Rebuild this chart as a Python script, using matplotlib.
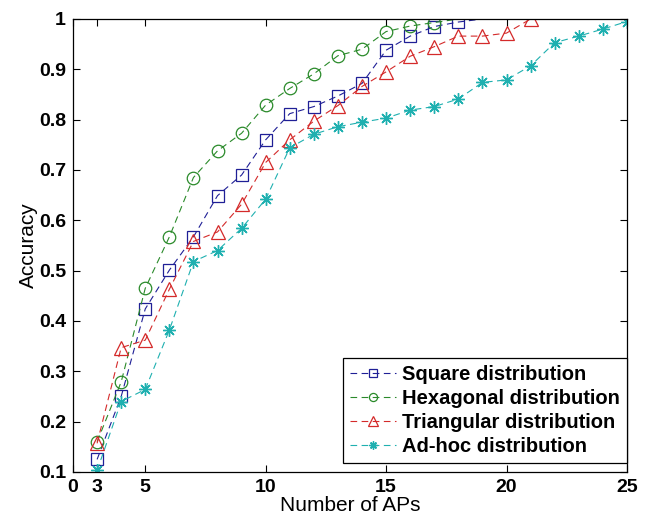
import numpy as np
import matplotlib
matplotlib.use('Agg')
import matplotlib.pyplot as plt

# Data
aps_square = [3, 4, 5, 6, 7, 8, 9, 10, 11, 12, 13, 14, 15, 16, 17, 18, 19]
acc_square = [0.125, 0.250, 0.424, 0.501, 0.567, 0.649, 0.690, 0.760, 0.812, 0.826,
              0.847, 0.872, 0.938, 0.966, 0.985, 0.994, 1.0]

aps_hex = [3, 4, 5, 6, 7, 8, 9, 10, 11, 12, 13, 14, 15, 16, 17, 18]
acc_hex = [0.160, 0.279, 0.465, 0.567, 0.685, 0.738, 0.773, 0.829, 0.862, 0.891,
           0.927, 0.940, 0.975, 0.986, 0.993, 1.0]

aps_tri = [3, 4, 5, 6, 7, 8, 9, 10, 11, 12, 13, 14, 15, 16, 17, 18, 19, 20, 21]
acc_tri = [0.157, 0.347, 0.362, 0.463, 0.558, 0.577, 0.632, 0.715, 0.760, 0.797,
           0.828, 0.866, 0.895, 0.926, 0.945, 0.966, 0.966, 0.972, 1.0]

aps_adhoc = [3, 4, 5, 6, 7, 8, 9, 10, 11, 12, 13, 14, 15, 16, 17, 18, 19, 20, 21, 22, 23, 24, 25]
acc_adhoc = [0.103, 0.240, 0.264, 0.382, 0.518, 0.540, 0.584, 0.642, 0.744, 0.771,
             0.786, 0.795, 0.803, 0.819, 0.826, 0.841, 0.874, 0.879, 0.907, 0.953,
             0.966, 0.980, 0.995]

labels = ['Square distribution', 'Hexagonal distribution',
          'Triangular distribution', 'Ad-hoc distribution']

xtick_pos = [2, 3, 5, 10, 15, 20, 25]
xtick_lab = ['0', '3', '5', '10', '15', '20', '25']
ytick_pos = [0.1, 0.2, 0.3, 0.4, 0.5, 0.6, 0.7, 0.8, 0.9, 1.0]
ytick_lab = ['0.1', '0.2', '0.3', '0.4', '0.5', '0.6', '0.7', '0.8', '0.9', '1']

# Plot parameters
plt.rcParams['font.family'] = ['Liberation Sans', 'DejaVu Sans']
plt.rcParams['font.size'] = 14

fig = plt.figure(figsize=(6.49, 5.19), dpi=100)
ax = fig.add_axes([0.1125, 0.0906, 0.8535, 0.8728])

dash = (0, (6, 4))
lw = 0.8
ax.plot(aps_square, acc_square, linestyle=dash, color='#1f1f96', lw=lw,
        marker='s', ms=9, mfc='none', mew=0.9,
        markevery=list(range(len(aps_square) - 1)), label=labels[0])
ax.plot(aps_hex, acc_hex, linestyle=dash, color='#2a8a2a', lw=lw,
        marker='o', ms=9, mfc='none', mew=0.9,
        markevery=list(range(len(aps_hex) - 1)), label=labels[1])
ax.plot(aps_tri, acc_tri, linestyle=dash, color='#d42a2a', lw=lw,
        marker='^', ms=10, mfc='none', mew=0.9, label=labels[2])
ax.plot(aps_adhoc, acc_adhoc, linestyle=dash, color='#1fb0b0', lw=lw,
        marker=(8, 2, 0), ms=9, mew=1.0, label=labels[3])

ax.set_xlim(2, 25)
ax.set_ylim(0.1, 1.0)
ax.set_xticks(xtick_pos)
ax.set_xticklabels(xtick_lab, fontweight='bold', fontsize=14)
ax.set_yticks(ytick_pos)
ax.set_yticklabels(ytick_lab, fontweight='bold', fontsize=14)
ax.tick_params(direction='in', top=True, right=True, length=5, width=0.8, pad=5)
for s in ax.spines.values():
    s.set_linewidth(0.9)

ax.set_xlabel('Number of APs', fontsize=15, labelpad=0)
ax.set_ylabel('Accuracy', fontsize=15, labelpad=1)

leg = ax.legend(loc='lower right', bbox_to_anchor=(1.0, 0.02), borderaxespad=0,
                fancybox=False, edgecolor='black', framealpha=1,
                handlelength=2.3, handletextpad=0.3, labelspacing=0.25,
                borderpad=0.35, markerscale=0.65,
                prop={'weight': 'bold', 'size': 14.5})
leg.get_frame().set_linewidth(0.9)

plt.savefig('out.png', dpi=100)
